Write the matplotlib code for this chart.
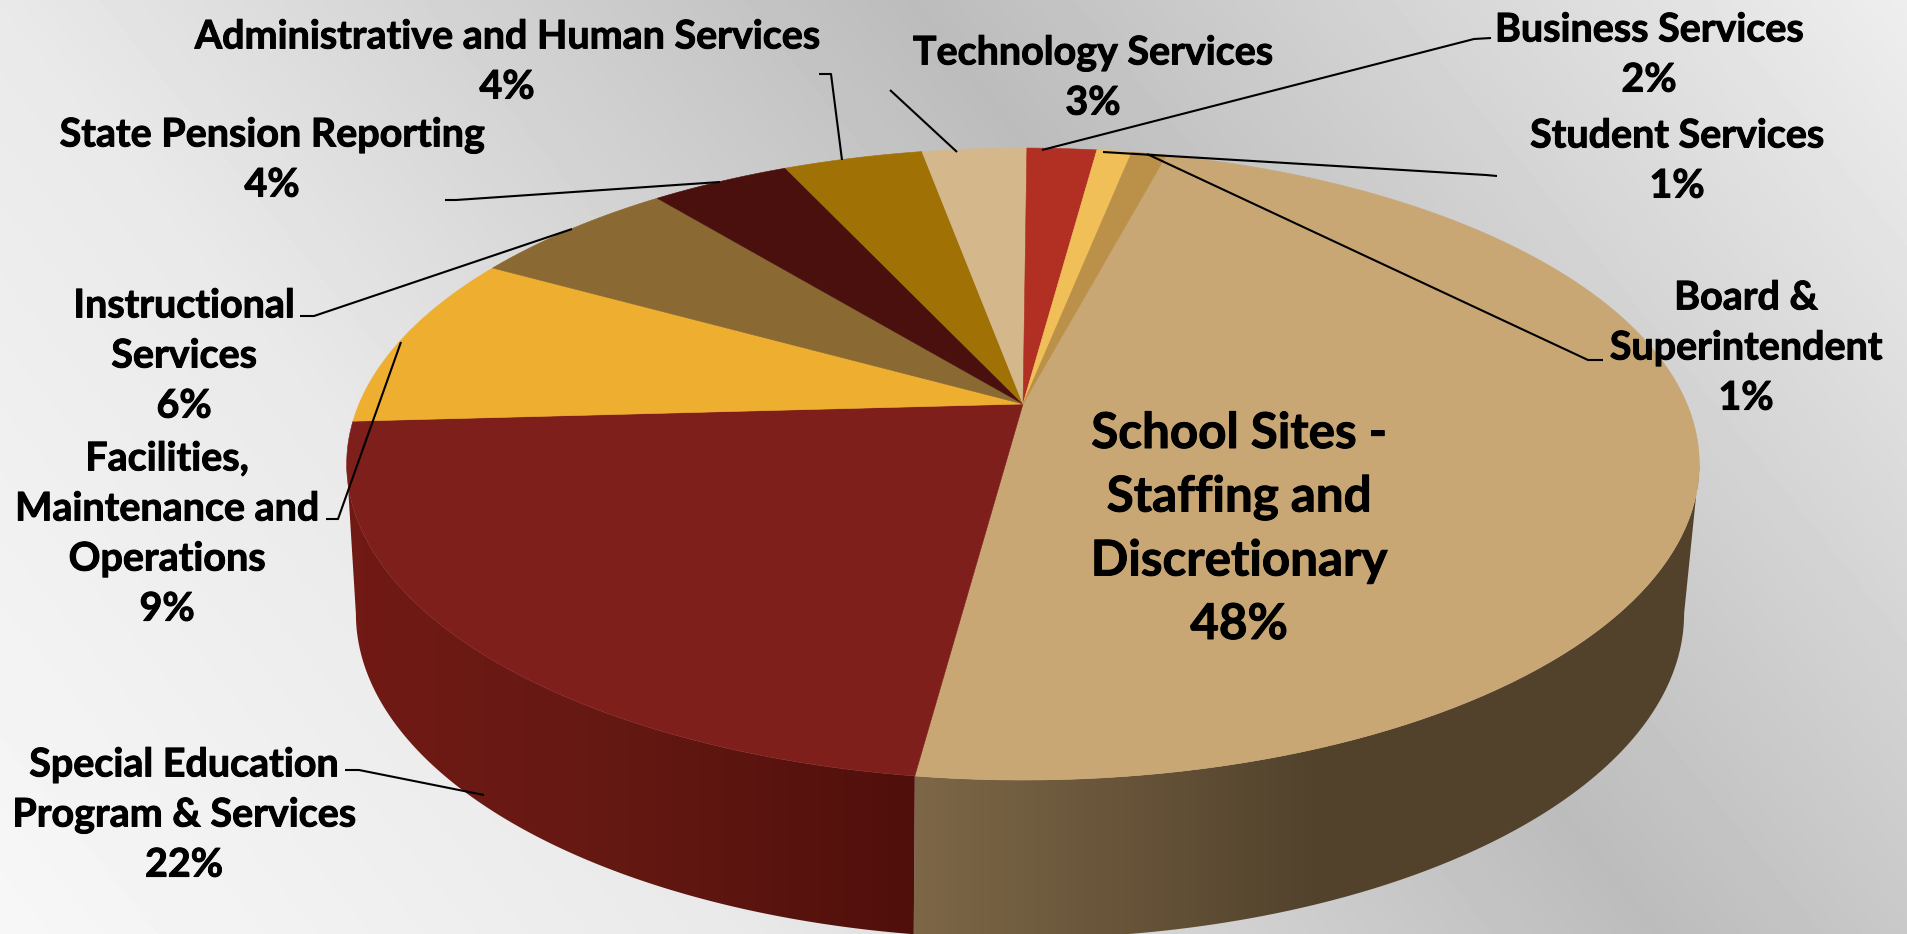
import numpy as np
import matplotlib
matplotlib.use("Agg")
from matplotlib import pyplot as plt
from matplotlib import patheffects
from matplotlib.patches import Polygon
from matplotlib.colors import LinearSegmentedColormap

# budget shares, clockwise from the big slice
names = ["School Sites -\nStaffing and\nDiscretionary", "Special Education\nProgram & Services",
         "Facilities,\nMaintenance and\nOperations", "Instructional\nServices",
         "State Pension Reporting", "Administrative and Human Services",
         "Technology Services", "Business Services", "Student Services", "Board &\nSuperintendent"]
shares = [48, 22, 9, 6, 4, 4, 3, 2, 1, 1]
top_colors = ["#c8a775", "#7f1f1b", "#eeaf30", "#8a6a32", "#4a100e",
              "#a07105", "#d4b88c", "#b22f24", "#f0bf57", "#bb9049"]

# where each label block sits (pixels)
label_x = [1239, 184, 167, 184, 272, 507, 1093, 1649, 1677, 1746]
label_y = [529, 815, 534, 356, 160, 62, 78, 55, 161, 348]

# leader lines
leaders = [
    [(819, 74), (831, 74), (842, 160)],
    [(890, 90), (957, 152)],
    [(1491, 38), (1474, 39), (1042, 150)],
    [(1497, 176), (1486, 175), (1103, 152)],
    [(1603, 360), (1588, 360), (1147, 154)],
    [(445, 200), (456, 200), (720, 182)],
    [(300, 316), (314, 316), (572, 229)],
    [(326, 519), (338, 519), (401, 342)],
    [(345, 770), (359, 770), (484, 795)],
]

W, H = 1907, 934
START = 14.8   # degrees clockwise from straight up
K = 0.19       # foreshortening of the far side
APEX = (1023, 404)


def rim(theta, cx, cy, a, b):
    t = np.radians(theta)
    x, y = np.sin(t), np.cos(t)
    w = 1 + K * y
    return np.column_stack([cx + a * x / w, cy - b * y / w])


def top_rim(theta):
    return rim(theta, APEX[0], APEX[1], 664, 304.6)


def bottom_rim(theta):
    return rim(theta, 1020, 552, 652, 313)


fig = plt.figure(figsize=(W / 100, H / 100), dpi=100)
ax = fig.add_axes([0, 0, 1, 1])
ax.set_xlim(0, W)
ax.set_ylim(H, 0)
ax.axis("off")

# background sheen, a diagonal dark band
xx, yy = np.meshgrid(np.arange(W), np.arange(H))
t = 0.78 * xx - 0.625 * yy
bg = np.interp(t, [-584, 0, 710, 1487], [247, 233, 188, 238])
ax.imshow(bg, cmap="gray", vmin=0, vmax=255, extent=[0, W, H, 0], aspect="auto", zorder=0)

edges = START + np.cumsum([0] + shares) * 3.6
tangent = np.degrees(np.arccos(-K))
front_x = top_rim(np.array([edges[1]]))[0, 0]

# front walls of the two big slices, shaded left to right
wall_ranges = [(tangent, edges[1]), (edges[1], 360 - tangent)]
wall_cmaps = [LinearSegmentedColormap.from_list("w1", ["#7d6747", "#52422c", "#52422c"]),
              LinearSegmentedColormap.from_list("w2", ["#721a15", "#641812", "#500f0b"])]
wall_extents = [[front_x - 2, 1730, H, 0], [340, front_x + 2, H, 0]]
for (a, b), cm, ext in zip(wall_ranges, wall_cmaps, wall_extents):
    th = np.linspace(a, b, 200)
    pts = np.vstack([top_rim(th), bottom_rim(th[::-1])])
    grad = np.linspace(0, 1, 256).reshape(1, -1)
    im = ax.imshow(grad, cmap=cm, extent=ext, aspect="auto", zorder=1)
    clip = Polygon(pts, closed=True, transform=ax.transData)
    im.set_clip_path(clip)
ax.set_xlim(0, W)
ax.set_ylim(H, 0)

# top face
for i in range(len(shares)):
    th = np.linspace(edges[i], edges[i + 1], 120)
    pts = np.vstack([APEX, top_rim(th)])
    ax.fill(pts[:, 0], pts[:, 1], color=top_colors[i], lw=0.4, zorder=2)

for line in leaders:
    arr = np.array(line)
    ax.plot(arr[:, 0], arr[:, 1], color="black", lw=1.5, zorder=3, solid_capstyle="butt")

# thin stroke makes the bold a little heavier
heavy = [patheffects.withStroke(linewidth=0.7, foreground="black")]
for i in range(len(shares)):
    big = i == 0
    ax.text(label_x[i], label_y[i], "%s\n%d%%" % (names[i], shares[i]), ha="center", va="center",
            family="Lato", weight="bold", color="black", fontsize=35.5 if big else 28.4,
            linespacing=1.5 if big else 1.52, zorder=4, path_effects=heavy)

fig.savefig("out.png", dpi=100)
